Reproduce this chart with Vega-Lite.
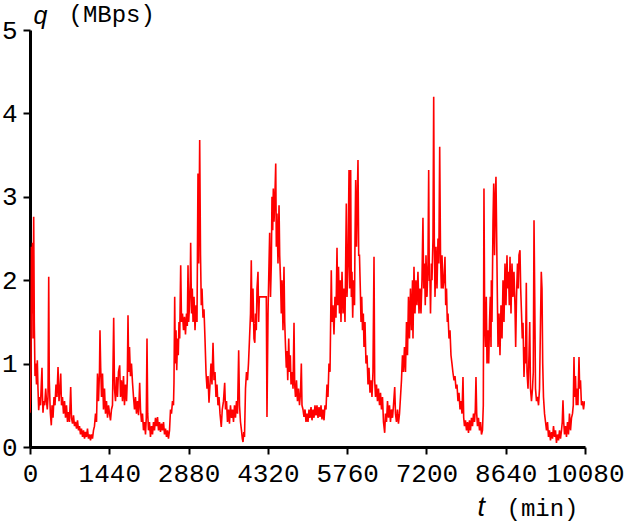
{
  "$schema": "https://vega.github.io/schema/vega-lite/v6.json",
  "width": 555,
  "height": 417,
  "autosize": {"type": "none"},
  "padding": {"left": 30, "top": 30, "right": 39, "bottom": 74},
  "background": "white",
  "config": {"view": {"stroke": null}},
  "data": {"values": [
{"t":0,"q":0.41},{"t":9,"q":0.6},{"t":18,"q":1.0},{"t":27,"q":2.4},{"t":36,"q":1.6},{"t":45,"q":2.45},{"t":55,"q":1.3},{"t":67,"q":2.76},{"t":78,"q":1.5},{"t":91,"q":0.85},{"t":104,"q":1.0},{"t":118,"q":0.75},{"t":133,"q":1.04},{"t":145,"q":0.7},{"t":158,"q":0.44},{"t":176,"q":0.6},{"t":191,"q":0.5},{"t":205,"q":0.75},{"t":218,"q":0.95},{"t":227,"q":0.6},{"t":236,"q":0.41},{"t":249,"q":0.55},{"t":267,"q":0.5},{"t":285,"q":0.7},{"t":300,"q":0.55},{"t":314,"q":0.45},{"t":327,"q":0.6},{"t":340,"q":2.04},{"t":350,"q":0.8},{"t":369,"q":0.41},{"t":387,"q":0.26},{"t":400,"q":0.5},{"t":418,"q":0.35},{"t":436,"q":0.6},{"t":454,"q":0.5},{"t":472,"q":0.75},{"t":490,"q":0.6},{"t":509,"q":0.96},{"t":527,"q":0.55},{"t":545,"q":0.7},{"t":558,"q":0.88},{"t":572,"q":0.5},{"t":590,"q":0.6},{"t":608,"q":0.4},{"t":627,"q":0.55},{"t":645,"q":0.35},{"t":663,"q":0.5},{"t":681,"q":0.3},{"t":699,"q":0.42},{"t":717,"q":0.3},{"t":739,"q":0.72},{"t":754,"q":0.35},{"t":772,"q":0.28},{"t":790,"q":0.38},{"t":808,"q":0.25},{"t":826,"q":0.3},{"t":845,"q":0.22},{"t":863,"q":0.32},{"t":881,"q":0.2},{"t":899,"q":0.25},{"t":917,"q":0.15},{"t":935,"q":0.22},{"t":954,"q":0.12},{"t":972,"q":0.2},{"t":990,"q":0.1},{"t":1008,"q":0.18},{"t":1026,"q":0.12},{"t":1044,"q":0.22},{"t":1062,"q":0.1},{"t":1081,"q":0.15},{"t":1099,"q":0.08},{"t":1117,"q":0.15},{"t":1135,"q":0.1},{"t":1153,"q":0.2},{"t":1171,"q":0.25},{"t":1190,"q":0.4},{"t":1208,"q":0.3},{"t":1226,"q":0.88},{"t":1244,"q":0.55},{"t":1262,"q":0.9},{"t":1271,"q":1.4},{"t":1284,"q":0.95},{"t":1299,"q":0.6},{"t":1317,"q":0.88},{"t":1335,"q":0.45},{"t":1353,"q":0.7},{"t":1371,"q":0.4},{"t":1389,"q":0.55},{"t":1408,"q":0.35},{"t":1426,"q":0.5},{"t":1444,"q":0.4},
{"t":1462,"q":0.32},{"t":1480,"q":0.45},{"t":1498,"q":0.5},{"t":1520,"q":1.55},{"t":1535,"q":0.7},{"t":1553,"q":0.55},{"t":1571,"q":0.84},{"t":1589,"q":0.6},{"t":1607,"q":0.9},{"t":1629,"q":0.98},{"t":1644,"q":0.6},{"t":1662,"q":0.8},{"t":1680,"q":0.55},{"t":1698,"q":0.85},{"t":1716,"q":0.5},{"t":1734,"q":0.75},{"t":1753,"q":0.55},{"t":1767,"q":0.8},{"t":1780,"q":1.58},{"t":1793,"q":0.9},{"t":1807,"q":1.2},{"t":1825,"q":0.85},{"t":1843,"q":1.0},{"t":1862,"q":0.77},{"t":1880,"q":0.6},{"t":1898,"q":0.45},{"t":1916,"q":0.6},{"t":1934,"q":0.4},{"t":1952,"q":0.55},{"t":1971,"q":0.38},{"t":1992,"q":0.77},{"t":2007,"q":0.45},{"t":2025,"q":0.3},{"t":2043,"q":0.4},{"t":2061,"q":0.2},{"t":2080,"q":0.3},{"t":2098,"q":0.15},{"t":2112,"q":0.35},{"t":2125,"q":1.3},{"t":2138,"q":0.4},{"t":2152,"q":0.2},{"t":2170,"q":0.3},{"t":2188,"q":0.12},{"t":2207,"q":0.25},{"t":2225,"q":0.15},{"t":2243,"q":0.3},{"t":2261,"q":0.2},{"t":2279,"q":0.35},{"t":2298,"q":0.25},{"t":2316,"q":0.36},{"t":2334,"q":0.2},{"t":2352,"q":0.3},{"t":2370,"q":0.18},{"t":2388,"q":0.28},{"t":2406,"q":0.2},{"t":2425,"q":0.3},{"t":2443,"q":0.15},{"t":2461,"q":0.22},{"t":2479,"q":0.12},{"t":2497,"q":0.2},{"t":2515,"q":0.1},{"t":2534,"q":0.2},{"t":2552,"q":0.45},{"t":2570,"q":0.4},{"t":2588,"q":0.55},{"t":2606,"q":0.5},{"t":2615,"q":0.77},{"t":2628,"q":1.8},{"t":2639,"q":1.0},{"t":2652,"q":1.4},{"t":2665,"q":0.92},{"t":2679,"q":1.3},{"t":2693,"q":1.1},{"t":2706,"q":1.5},{"t":2719,"q":1.3},{"t":2737,"q":2.18},{"t":2752,"q":1.5},{"t":2770,"q":1.6},{"t":2788,"q":1.4},{"t":2806,"q":1.56},{"t":2824,"q":1.35},{"t":2842,"q":1.6},{"t":2857,"q":1.45},{"t":2870,"q":2.18},{"t":2882,"q":1.5},{"t":2897,"q":1.7},
{"t":2911,"q":2.0},{"t":2918,"q":2.45},{"t":2934,"q":1.6},{"t":2948,"q":1.9},{"t":2961,"q":1.5},{"t":2979,"q":1.8},{"t":2997,"q":1.4},{"t":3015,"q":1.7},{"t":3033,"q":1.5},{"t":3051,"q":3.28},{"t":3064,"q":2.2},{"t":3082,"q":3.68},{"t":3097,"q":2.3},{"t":3111,"q":1.7},{"t":3124,"q":1.9},{"t":3142,"q":1.55},{"t":3160,"q":1.65},{"t":3178,"q":1.3},{"t":3197,"q":0.89},{"t":3215,"q":0.7},{"t":3233,"q":0.85},{"t":3251,"q":0.53},{"t":3269,"q":0.75},{"t":3287,"q":1.0},{"t":3305,"q":0.75},{"t":3324,"q":1.25},{"t":3342,"q":0.8},{"t":3360,"q":0.9},{"t":3378,"q":0.6},{"t":3396,"q":0.75},{"t":3414,"q":0.5},{"t":3433,"q":0.6},{"t":3451,"q":0.4},{"t":3474,"q":0.24},{"t":3492,"q":0.45},{"t":3514,"q":0.55},{"t":3536,"q":0.77},{"t":3551,"q":0.45},{"t":3569,"q":0.55},{"t":3587,"q":0.3},{"t":3605,"q":0.45},{"t":3623,"q":0.28},{"t":3641,"q":0.5},{"t":3660,"q":0.35},{"t":3678,"q":0.45},{"t":3696,"q":0.3},{"t":3714,"q":0.5},{"t":3732,"q":0.35},{"t":3750,"q":0.55},{"t":3769,"q":0.4},{"t":3790,"q":1.16},{"t":3805,"q":0.5},{"t":3823,"q":0.3},{"t":3841,"q":0.2},{"t":3856,"q":0.1},{"t":3869,"q":0.06},{"t":3883,"q":0.18},{"t":3896,"q":0.12},{"t":3914,"q":0.7},{"t":3932,"q":0.9},{"t":3950,"q":0.8},{"t":3968,"q":1.0},{"t":3987,"q":1.3},{"t":4005,"q":1.6},{"t":4019,"q":2.24},{"t":4032,"q":1.5},{"t":4050,"q":1.9},{"t":4068,"q":1.3},{"t":4083,"q":1.25},{"t":4096,"q":1.6},{"t":4110,"q":1.4},{"t":4123,"q":1.9},{"t":4141,"q":2.1},{"t":4153,"q":1.5},{"t":4165,"q":1.8},{"t":4292,"q":1.8},{"t":4304,"q":0.36},{"t":4323,"q":1.6},{"t":4341,"q":2.2},{"t":4353,"q":2.57},
{"t":4368,"q":1.8},{"t":4383,"q":2.2},{"t":4395,"q":3.0},{"t":4408,"q":2.6},{"t":4419,"q":3.1},{"t":4432,"q":2.7},{"t":4444,"q":2.9},{"t":4463,"q":3.4},{"t":4474,"q":2.4},{"t":4486,"q":2.8},{"t":4504,"q":2.2},{"t":4523,"q":2.9},{"t":4535,"q":2.3},{"t":4550,"q":2.0},{"t":4564,"q":1.6},{"t":4577,"q":2.0},{"t":4595,"q":1.4},{"t":4613,"q":2.16},{"t":4626,"q":1.5},{"t":4641,"q":1.2},{"t":4655,"q":0.95},{"t":4668,"q":1.15},{"t":4681,"q":0.8},{"t":4699,"q":1.3},{"t":4713,"q":0.9},{"t":4728,"q":1.1},{"t":4741,"q":0.75},{"t":4759,"q":0.9},{"t":4777,"q":0.7},{"t":4795,"q":1.49},{"t":4807,"q":0.75},{"t":4822,"q":0.6},{"t":4840,"q":0.8},{"t":4858,"q":0.55},{"t":4877,"q":0.7},{"t":4895,"q":0.5},{"t":4913,"q":0.65},{"t":4928,"q":1.0},{"t":4940,"q":0.5},{"t":4958,"q":0.45},{"t":4976,"q":0.36},{"t":4995,"q":0.45},{"t":5013,"q":0.3},{"t":5031,"q":0.4},{"t":5049,"q":0.3},{"t":5067,"q":0.45},{"t":5085,"q":0.35},{"t":5104,"q":0.48},{"t":5122,"q":0.32},{"t":5140,"q":0.45},{"t":5158,"q":0.35},{"t":5176,"q":0.5},{"t":5194,"q":0.38},{"t":5212,"q":0.5},{"t":5231,"q":0.35},{"t":5249,"q":0.48},{"t":5267,"q":0.36},{"t":5285,"q":0.5},{"t":5303,"q":0.33},{"t":5321,"q":0.45},{"t":5340,"q":0.32},{"t":5358,"q":0.5},{"t":5376,"q":0.45},{"t":5394,"q":0.75},{"t":5412,"q":0.6},{"t":5430,"q":1.0},{"t":5449,"q":0.9},{"t":5472,"q":2.12},{"t":5485,"q":1.5},{"t":5503,"q":1.7},{"t":5521,"q":1.35},{"t":5539,"q":1.8},{"t":5557,"q":1.55},{"t":5576,"q":2.39},{"t":5589,"q":1.7},{"t":5603,"q":2.16},{"t":5621,"q":1.6},{"t":5636,"q":2.0},{"t":5648,"q":1.5},{"t":5667,"q":2.1},{"t":5685,"q":1.6},{"t":5703,"q":1.9},{"t":5721,"q":1.5},{"t":5745,"q":2.92},{"t":5757,"q":1.8},{"t":5776,"q":2.2},{"t":5794,"q":3.32},{"t":5806,"q":1.9},
{"t":5824,"q":3.32},{"t":5836,"q":1.8},{"t":5848,"q":2.1},{"t":5861,"q":1.55},{"t":5875,"q":2.0},{"t":5894,"q":1.7},{"t":5903,"q":2.5},{"t":5915,"q":3.2},{"t":5930,"q":2.4},{"t":5945,"q":3.0},{"t":5957,"q":3.44},{"t":5970,"q":2.3},{"t":5984,"q":2.3},{"t":5999,"q":1.9},{"t":6012,"q":1.5},{"t":6025,"q":1.8},{"t":6039,"q":1.4},{"t":6054,"q":1.6},{"t":6066,"q":1.2},{"t":6084,"q":1.5},{"t":6102,"q":1.0},{"t":6121,"q":1.1},{"t":6139,"q":0.75},{"t":6157,"q":0.95},{"t":6175,"q":0.65},{"t":6193,"q":0.8},{"t":6211,"q":0.6},{"t":6229,"q":0.9},{"t":6248,"q":2.28},{"t":6260,"q":0.8},{"t":6275,"q":0.6},{"t":6293,"q":0.75},{"t":6311,"q":0.55},{"t":6329,"q":0.7},{"t":6348,"q":0.5},{"t":6366,"q":0.65},{"t":6384,"q":0.45},{"t":6402,"q":0.6},{"t":6420,"q":0.3},{"t":6442,"q":0.17},{"t":6456,"q":0.4},{"t":6475,"q":0.3},{"t":6493,"q":0.55},{"t":6511,"q":0.35},{"t":6529,"q":0.5},{"t":6547,"q":0.3},{"t":6565,"q":0.45},{"t":6584,"q":0.35},{"t":6602,"q":0.5},{"t":6624,"q":0.72},{"t":6638,"q":0.4},{"t":6656,"q":0.3},{"t":6674,"q":0.45},{"t":6692,"q":0.28},{"t":6711,"q":0.4},{"t":6729,"q":0.6},{"t":6747,"q":0.8},{"t":6765,"q":1.1},{"t":6783,"q":0.9},{"t":6801,"q":1.2},{"t":6820,"q":0.9},{"t":6838,"q":1.5},{"t":6856,"q":1.1},{"t":6874,"q":1.8},{"t":6892,"q":1.3},{"t":6910,"q":1.9},{"t":6929,"q":1.4},{"t":6947,"q":2.0},{"t":6956,"q":1.3},{"t":6974,"q":2.16},{"t":6992,"q":1.6},{"t":7010,"q":2.0},{"t":7028,"q":1.7},{"t":7046,"q":2.1},{"t":7065,"q":1.6},{"t":7083,"q":1.9},{"t":7101,"q":1.6},{"t":7119,"q":2.0},{"t":7137,"q":2.75},{"t":7150,"q":1.9},{"t":7165,"q":2.2},{"t":7179,"q":1.7},{"t":7192,"q":2.3},{"t":7210,"q":1.8},{"t":7228,"q":2.2},{"t":7241,"q":3.32},{"t":7252,"q":2.0},
{"t":7265,"q":2.0},{"t":7274,"q":1.6},{"t":7289,"q":2.2},{"t":7301,"q":2.0},{"t":7319,"q":2.5},{"t":7332,"q":4.2},{"t":7343,"q":2.5},{"t":7356,"q":1.8},{"t":7374,"q":2.4},{"t":7392,"q":1.9},{"t":7410,"q":2.5},{"t":7425,"q":2.2},{"t":7441,"q":3.6},{"t":7456,"q":2.3},{"t":7471,"q":1.9},{"t":7483,"q":2.3},{"t":7501,"q":1.9},{"t":7519,"q":2.0},{"t":7537,"q":2.28},{"t":7550,"q":1.7},{"t":7565,"q":1.9},{"t":7579,"q":1.5},{"t":7592,"q":1.6},{"t":7610,"q":1.3},{"t":7628,"q":1.4},{"t":7646,"q":1.1},{"t":7664,"q":1.0},{"t":7682,"q":0.89},{"t":7701,"q":0.8},{"t":7719,"q":0.85},{"t":7737,"q":0.7},{"t":7755,"q":0.75},{"t":7773,"q":0.55},{"t":7791,"q":0.65},{"t":7810,"q":0.45},{"t":7828,"q":0.55},{"t":7846,"q":0.4},{"t":7864,"q":0.84},{"t":7877,"q":0.35},{"t":7891,"q":0.25},{"t":7909,"q":0.32},{"t":7928,"q":0.2},{"t":7946,"q":0.3},{"t":7964,"q":0.17},{"t":7982,"q":0.32},{"t":8000,"q":0.2},{"t":8018,"q":0.35},{"t":8037,"q":0.25},{"t":8055,"q":0.4},{"t":8073,"q":0.3},{"t":8088,"q":0.45},{"t":8100,"q":0.84},{"t":8113,"q":0.4},{"t":8127,"q":0.25},{"t":8145,"q":0.35},{"t":8164,"q":0.2},{"t":8182,"q":0.3},{"t":8200,"q":0.15},{"t":8218,"q":0.2},{"t":8233,"q":0.5},{"t":8245,"q":3.1},{"t":8258,"q":1.5},{"t":8273,"q":1.2},{"t":8287,"q":1.8},{"t":8300,"q":1.0},{"t":8318,"q":1.4},{"t":8331,"q":1.0},{"t":8346,"q":1.5},{"t":8360,"q":1.8},{"t":8373,"q":1.2},{"t":8379,"q":2.0},{"t":8391,"q":1.5},{"t":8409,"q":2.7},{"t":8422,"q":3.16},{"t":8437,"q":2.3},{"t":8451,"q":3.0},{"t":8463,"q":3.24},{"t":8476,"q":2.5},{"t":8488,"q":1.8},{"t":8500,"q":1.2},{"t":8518,"q":1.6},{"t":8536,"q":1.1},{"t":8554,"q":1.7},{"t":8573,"q":1.3},{"t":8591,"q":2.0},{"t":8609,"q":1.5},{"t":8627,"q":2.2},{"t":8645,"q":1.7},{"t":8663,"q":2.3},{"t":8676,"q":1.9},{"t":8691,"q":2.1},{"t":8705,"q":1.7},
{"t":8718,"q":2.28},{"t":8736,"q":1.6},{"t":8754,"q":2.2},{"t":8772,"q":1.8},{"t":8790,"q":2.1},{"t":8808,"q":1.7},{"t":8821,"q":1.2},{"t":8836,"q":1.8},{"t":8854,"q":2.2},{"t":8869,"q":1.9},{"t":8881,"q":2.3},{"t":8899,"q":2.36},{"t":8912,"q":1.9},{"t":8927,"q":1.6},{"t":8941,"q":1.3},{"t":8954,"q":1.49},{"t":8972,"q":0.84},{"t":8990,"q":1.2},{"t":8999,"q":1.0},{"t":9014,"q":1.97},{"t":9027,"q":0.9},{"t":9045,"q":0.7},{"t":9063,"q":1.1},{"t":9076,"q":1.5},{"t":9090,"q":0.7},{"t":9108,"q":0.55},{"t":9126,"q":0.7},{"t":9141,"q":0.9},{"t":9154,"q":2.72},{"t":9167,"q":1.8},{"t":9181,"q":0.7},{"t":9199,"q":0.55},{"t":9217,"q":0.6},{"t":9236,"q":0.5},{"t":9254,"q":0.7},{"t":9272,"q":1.5},{"t":9286,"q":2.1},{"t":9299,"q":1.9},{"t":9312,"q":1.0},{"t":9326,"q":0.6},{"t":9345,"q":0.4},{"t":9363,"q":0.3},{"t":9381,"q":0.2},{"t":9399,"q":0.3},{"t":9417,"q":0.12},{"t":9435,"q":0.2},{"t":9453,"q":0.08},{"t":9472,"q":0.18},{"t":9490,"q":0.1},{"t":9508,"q":0.25},{"t":9526,"q":0.12},{"t":9544,"q":0.2},{"t":9562,"q":0.05},{"t":9580,"q":0.15},{"t":9599,"q":0.08},{"t":9617,"q":0.2},{"t":9635,"q":0.1},{"t":9653,"q":0.2},{"t":9667,"q":0.3},{"t":9680,"q":0.56},{"t":9693,"q":0.3},{"t":9708,"q":0.15},{"t":9726,"q":0.25},{"t":9744,"q":0.12},{"t":9762,"q":0.3},{"t":9780,"q":0.15},{"t":9798,"q":0.4},{"t":9817,"q":0.2},{"t":9835,"q":0.35},{"t":9853,"q":0.4},{"t":9867,"q":0.5},{"t":9880,"q":1.08},{"t":9893,"q":0.6},{"t":9907,"q":0.85},{"t":9921,"q":0.5},{"t":9934,"q":0.7},{"t":9952,"q":0.5},{"t":9971,"q":1.08},{"t":9983,"q":0.7},{"t":9998,"q":0.8},{"t":10016,"q":0.5},{"t":10034,"q":0.55},{"t":10053,"q":0.45},{"t":10071,"q":0.55}
  ]},
  "layer": [
    {
      "mark": {"type": "line", "color": "#ff0000", "strokeWidth": 1.6, "clip": true},
      "encoding": {
        "x": {"field": "t", "type": "quantitative",
          "scale": {"domain": [0, 10080], "nice": false, "zero": false},
          "axis": {"values": [0,1440,2880,4320,5760,7200,8640,10080], "format": "d", "grid": false,
            "domainColor": "black", "domainWidth": 3, "tickColor": "black", "tickWidth": 2, "tickSize": 7,
            "labelFont": "Liberation Mono", "labelFontSize": 26, "labelColor": "black", "labelPadding": 6, "labelOverlap": false, "labelFlush": false,
            "title": "t", "titleFont": "Liberation Sans", "titleFontStyle": "italic", "titleFontWeight": "normal", "titleFontSize": 27, "titleColor": "black",
            "titleAlign": "left", "titleBaseline": "alphabetic", "titleX": 447, "titleY": 68}},
        "y": {"field": "q", "type": "quantitative",
          "scale": {"domain": [0, 5], "nice": false, "zero": false},
          "axis": {"values": [0,1,2,3,4,5], "grid": false,
            "domainColor": "black", "domainWidth": 3, "tickColor": "black", "tickWidth": 2, "tickSize": 7,
            "labelFont": "Liberation Mono", "labelFontSize": 26, "labelColor": "black", "labelPadding": 6,
            "title": "q", "titleFont": "Liberation Sans", "titleFontStyle": "italic", "titleFontWeight": "normal", "titleFontSize": 25, "titleColor": "black",
            "titleAngle": 0, "titleAlign": "left", "titleBaseline": "alphabetic", "titleX": 3, "titleY": -7}}
      }
    },
    {
      "mark": {"type": "line", "opacity": 0},
      "encoding": {
        "x": {"field": "t", "type": "quantitative",
          "scale": {"domain": [0, 10080], "nice": false, "zero": false},
          "axis": {"orient": "top", "domain": false, "ticks": false, "labels": false, "grid": false,
            "title": "(min)", "titleFont": "Liberation Mono", "titleFontWeight": "normal", "titleFontSize": 24, "titleColor": "black",
            "titleAlign": "left", "titleBaseline": "alphabetic", "titleX": 476, "titleY": 485}},
        "y": {"field": "q", "type": "quantitative",
          "scale": {"domain": [0, 5], "nice": false, "zero": false},
          "axis": {"orient": "right", "domain": false, "ticks": false, "labels": false, "grid": false,
            "title": "(MBps)", "titleFont": "Liberation Mono", "titleFontWeight": "normal", "titleFontSize": 24, "titleColor": "black",
            "titleAngle": 0, "titleAlign": "left", "titleBaseline": "alphabetic", "titleX": -517, "titleY": -9}}
      }
    }
  ],
  "resolve": {"scale": {"x": "independent", "y": "independent"}, "axis": {"x": "independent", "y": "independent"}}
}
